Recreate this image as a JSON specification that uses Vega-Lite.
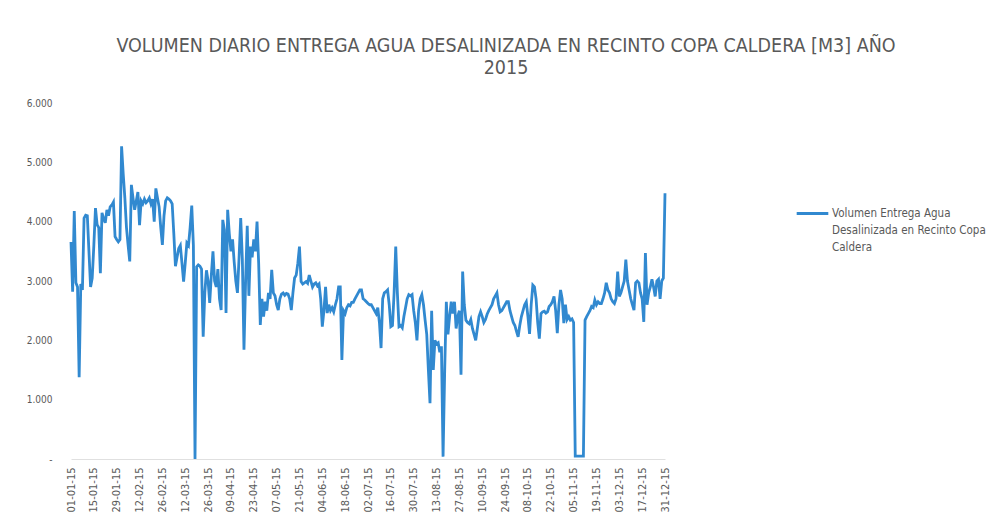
{
  "$schema": "https://vega.github.io/schema/vega-lite/v6.json",
  "autosize": "none",
  "width": 594,
  "height": 356,
  "padding": {"left": 71, "top": 103, "right": 335, "bottom": 70},
  "background": "white",
  "config": {
    "view": {"stroke": null},
    "font": "Liberation Sans Narrow, DejaVu Sans Condensed, sans-serif",
    "locale": {"number": {"decimal": ",", "thousands": ".", "grouping": [3], "currency": ["$", ""]}}
  },
  "title": {
    "text": ["VOLUMEN DIARIO ENTREGA AGUA DESALINIZADA EN RECINTO COPA CALDERA [M3] AÑO", "2015"],
    "font": "Liberation Sans Narrow, DejaVu Sans Condensed, sans-serif",
    "fontSize": 19.5,
    "fontWeight": "normal",
    "color": "#595959",
    "anchor": "middle",
    "dx": 138,
    "offset": 20,
    "lineHeight": 22
  },
  "data": {"values": [
    {"d":"2015-01-01","v":3660},{"d":"2015-01-02","v":2820},{"d":"2015-01-03","v":4180},{"d":"2015-01-04","v":2970},{"d":"2015-01-05","v":2900},{"d":"2015-01-06","v":1380},{"d":"2015-01-07","v":2950},{"d":"2015-01-08","v":2850},{"d":"2015-01-09","v":4060},{"d":"2015-01-10","v":4110},
    {"d":"2015-01-11","v":4100},{"d":"2015-01-12","v":3500},{"d":"2015-01-13","v":2900},{"d":"2015-01-14","v":3050},{"d":"2015-01-15","v":3600},{"d":"2015-01-16","v":4230},{"d":"2015-01-17","v":3950},{"d":"2015-01-18","v":3900},{"d":"2015-01-19","v":3130},{"d":"2015-01-20","v":4150},
    {"d":"2015-01-21","v":4050},{"d":"2015-01-22","v":3980},{"d":"2015-01-23","v":4200},{"d":"2015-01-24","v":4100},{"d":"2015-01-25","v":4250},{"d":"2015-01-26","v":4280},{"d":"2015-01-27","v":4330},{"d":"2015-01-28","v":3750},{"d":"2015-01-29","v":3700},{"d":"2015-01-30","v":3660},{"d":"2015-01-31","v":3700},
    {"d":"2015-02-01","v":5270},{"d":"2015-02-02","v":4800},{"d":"2015-02-03","v":4400},{"d":"2015-02-04","v":3900},{"d":"2015-02-05","v":3600},{"d":"2015-02-06","v":3330},{"d":"2015-02-07","v":4620},{"d":"2015-02-08","v":4400},{"d":"2015-02-09","v":4200},{"d":"2015-02-10","v":4350},
    {"d":"2015-02-11","v":4500},{"d":"2015-02-12","v":3940},{"d":"2015-02-13","v":4350},{"d":"2015-02-14","v":4300},{"d":"2015-02-15","v":4380},{"d":"2015-02-16","v":4320},{"d":"2015-02-17","v":4350},{"d":"2015-02-18","v":4400},{"d":"2015-02-19","v":4300},{"d":"2015-02-20","v":4380},
    {"d":"2015-02-21","v":4000},{"d":"2015-02-22","v":4560},{"d":"2015-02-23","v":4400},{"d":"2015-02-24","v":4250},{"d":"2015-02-25","v":3900},{"d":"2015-02-26","v":3610},{"d":"2015-02-27","v":4100},{"d":"2015-02-28","v":4350},
    {"d":"2015-03-01","v":4400},{"d":"2015-03-02","v":4380},{"d":"2015-03-03","v":4350},{"d":"2015-03-04","v":4300},{"d":"2015-03-05","v":3800},{"d":"2015-03-06","v":3250},{"d":"2015-03-07","v":3400},{"d":"2015-03-08","v":3550},{"d":"2015-03-09","v":3600},{"d":"2015-03-10","v":3300},
    {"d":"2015-03-11","v":2990},{"d":"2015-03-12","v":3300},{"d":"2015-03-13","v":3640},{"d":"2015-03-14","v":3600},{"d":"2015-03-15","v":3900},{"d":"2015-03-16","v":4270},{"d":"2015-03-17","v":3600},{"d":"2015-03-18","v":0},{"d":"2015-03-19","v":3240},{"d":"2015-03-20","v":3270},
    {"d":"2015-03-21","v":3250},{"d":"2015-03-22","v":3200},{"d":"2015-03-23","v":2060},{"d":"2015-03-24","v":2800},{"d":"2015-03-25","v":3180},{"d":"2015-03-26","v":3000},{"d":"2015-03-27","v":2630},{"d":"2015-03-28","v":3100},{"d":"2015-03-29","v":3500},{"d":"2015-03-30","v":3000},{"d":"2015-03-31","v":2900},
    {"d":"2015-04-01","v":3200},{"d":"2015-04-02","v":2700},{"d":"2015-04-03","v":2510},{"d":"2015-04-04","v":4030},{"d":"2015-04-05","v":3860},{"d":"2015-04-06","v":2460},{"d":"2015-04-07","v":4200},{"d":"2015-04-08","v":3800},{"d":"2015-04-09","v":3500},{"d":"2015-04-10","v":3700},
    {"d":"2015-04-11","v":3320},{"d":"2015-04-12","v":3000},{"d":"2015-04-13","v":2800},{"d":"2015-04-14","v":3400},{"d":"2015-04-15","v":4060},{"d":"2015-04-16","v":3370},{"d":"2015-04-17","v":1840},{"d":"2015-04-18","v":3000},{"d":"2015-04-19","v":3930},{"d":"2015-04-20","v":2750},
    {"d":"2015-04-21","v":3580},{"d":"2015-04-22","v":3400},{"d":"2015-04-23","v":3700},{"d":"2015-04-24","v":3500},{"d":"2015-04-25","v":4000},{"d":"2015-04-26","v":3300},{"d":"2015-04-27","v":2260},{"d":"2015-04-28","v":2700},{"d":"2015-04-29","v":2400},{"d":"2015-04-30","v":2650},
    {"d":"2015-05-01","v":2500},{"d":"2015-05-02","v":2800},{"d":"2015-05-03","v":2700},{"d":"2015-05-04","v":3190},{"d":"2015-05-05","v":2800},{"d":"2015-05-06","v":2750},{"d":"2015-05-07","v":2600},{"d":"2015-05-08","v":2510},{"d":"2015-05-09","v":2700},{"d":"2015-05-10","v":2780},
    {"d":"2015-05-11","v":2800},{"d":"2015-05-12","v":2760},{"d":"2015-05-13","v":2790},{"d":"2015-05-14","v":2780},{"d":"2015-05-15","v":2700},{"d":"2015-05-16","v":2510},{"d":"2015-05-17","v":2800},{"d":"2015-05-18","v":3050},{"d":"2015-05-19","v":3100},{"d":"2015-05-20","v":3300},
    {"d":"2015-05-21","v":3580},{"d":"2015-05-22","v":2990},{"d":"2015-05-23","v":2950},{"d":"2015-05-24","v":2970},{"d":"2015-05-25","v":2990},{"d":"2015-05-26","v":2960},{"d":"2015-05-27","v":3100},{"d":"2015-05-28","v":3000},{"d":"2015-05-29","v":2900},{"d":"2015-05-30","v":2950},{"d":"2015-05-31","v":2970},
    {"d":"2015-06-01","v":2920},{"d":"2015-06-02","v":2950},{"d":"2015-06-03","v":2700},{"d":"2015-06-04","v":2230},{"d":"2015-06-05","v":2500},{"d":"2015-06-06","v":2900},{"d":"2015-06-07","v":2460},{"d":"2015-06-08","v":2600},{"d":"2015-06-09","v":2500},{"d":"2015-06-10","v":2550},
    {"d":"2015-06-11","v":2480},{"d":"2015-06-12","v":2600},{"d":"2015-06-13","v":2700},{"d":"2015-06-14","v":2900},{"d":"2015-06-15","v":2900},{"d":"2015-06-16","v":1670},{"d":"2015-06-17","v":2500},{"d":"2015-06-18","v":2450},{"d":"2015-06-19","v":2550},{"d":"2015-06-20","v":2600},
    {"d":"2015-06-21","v":2580},{"d":"2015-06-22","v":2640},{"d":"2015-06-23","v":2640},{"d":"2015-06-24","v":2700},{"d":"2015-06-25","v":2750},{"d":"2015-06-26","v":2800},{"d":"2015-06-27","v":2850},{"d":"2015-06-28","v":2850},{"d":"2015-06-29","v":2700},{"d":"2015-06-30","v":2680},
    {"d":"2015-07-01","v":2650},{"d":"2015-07-02","v":2620},{"d":"2015-07-03","v":2600},{"d":"2015-07-04","v":2600},{"d":"2015-07-05","v":2550},{"d":"2015-07-06","v":2500},{"d":"2015-07-07","v":2450},{"d":"2015-07-08","v":2550},{"d":"2015-07-09","v":2300},{"d":"2015-07-10","v":1870},
    {"d":"2015-07-11","v":2700},{"d":"2015-07-12","v":2800},{"d":"2015-07-13","v":2820},{"d":"2015-07-14","v":2850},{"d":"2015-07-15","v":2600},{"d":"2015-07-16","v":2230},{"d":"2015-07-17","v":2250},{"d":"2015-07-18","v":2800},{"d":"2015-07-19","v":3580},{"d":"2015-07-20","v":2800},
    {"d":"2015-07-21","v":2230},{"d":"2015-07-22","v":2250},{"d":"2015-07-23","v":2210},{"d":"2015-07-24","v":2400},{"d":"2015-07-25","v":2550},{"d":"2015-07-26","v":2700},{"d":"2015-07-27","v":2770},{"d":"2015-07-28","v":2750},{"d":"2015-07-29","v":2770},{"d":"2015-07-30","v":2500},{"d":"2015-07-31","v":2300},
    {"d":"2015-08-01","v":2000},{"d":"2015-08-02","v":2500},{"d":"2015-08-03","v":2700},{"d":"2015-08-04","v":2770},{"d":"2015-08-05","v":2600},{"d":"2015-08-06","v":2340},{"d":"2015-08-07","v":2100},{"d":"2015-08-08","v":1500},{"d":"2015-08-09","v":940},{"d":"2015-08-10","v":2500},
    {"d":"2015-08-11","v":1500},{"d":"2015-08-12","v":2000},{"d":"2015-08-13","v":1940},{"d":"2015-08-14","v":1960},{"d":"2015-08-15","v":1800},{"d":"2015-08-16","v":1900},{"d":"2015-08-17","v":40},{"d":"2015-08-18","v":1500},{"d":"2015-08-19","v":2650},{"d":"2015-08-20","v":2100},
    {"d":"2015-08-21","v":2400},{"d":"2015-08-22","v":2650},{"d":"2015-08-23","v":2450},{"d":"2015-08-24","v":2650},{"d":"2015-08-25","v":2200},{"d":"2015-08-26","v":2400},{"d":"2015-08-27","v":2500},{"d":"2015-08-28","v":1420},{"d":"2015-08-29","v":3160},{"d":"2015-08-30","v":2600},{"d":"2015-08-31","v":2340},
    {"d":"2015-09-01","v":2300},{"d":"2015-09-02","v":2280},{"d":"2015-09-03","v":2350},{"d":"2015-09-04","v":2200},{"d":"2015-09-05","v":2100},{"d":"2015-09-06","v":2000},{"d":"2015-09-07","v":2200},{"d":"2015-09-08","v":2400},{"d":"2015-09-09","v":2480},{"d":"2015-09-10","v":2400},
    {"d":"2015-09-11","v":2300},{"d":"2015-09-12","v":2350},{"d":"2015-09-13","v":2440},{"d":"2015-09-14","v":2500},{"d":"2015-09-15","v":2550},{"d":"2015-09-16","v":2600},{"d":"2015-09-17","v":2700},{"d":"2015-09-18","v":2750},{"d":"2015-09-19","v":2800},{"d":"2015-09-20","v":2600},
    {"d":"2015-09-21","v":2480},{"d":"2015-09-22","v":2500},{"d":"2015-09-23","v":2550},{"d":"2015-09-24","v":2600},{"d":"2015-09-25","v":2650},{"d":"2015-09-26","v":2650},{"d":"2015-09-27","v":2500},{"d":"2015-09-28","v":2400},{"d":"2015-09-29","v":2300},{"d":"2015-09-30","v":2250},
    {"d":"2015-10-01","v":2150},{"d":"2015-10-02","v":2060},{"d":"2015-10-03","v":2250},{"d":"2015-10-04","v":2400},{"d":"2015-10-05","v":2500},{"d":"2015-10-06","v":2600},{"d":"2015-10-07","v":2650},{"d":"2015-10-08","v":2400},{"d":"2015-10-09","v":2110},{"d":"2015-10-10","v":2600},
    {"d":"2015-10-11","v":2930},{"d":"2015-10-12","v":2900},{"d":"2015-10-13","v":2700},{"d":"2015-10-14","v":2300},{"d":"2015-10-15","v":2030},{"d":"2015-10-16","v":2450},{"d":"2015-10-17","v":2480},{"d":"2015-10-18","v":2490},{"d":"2015-10-19","v":2460},{"d":"2015-10-20","v":2480},
    {"d":"2015-10-21","v":2570},{"d":"2015-10-22","v":2600},{"d":"2015-10-23","v":2650},{"d":"2015-10-24","v":2740},{"d":"2015-10-25","v":2500},{"d":"2015-10-26","v":2120},{"d":"2015-10-27","v":2600},{"d":"2015-10-28","v":2850},{"d":"2015-10-29","v":2700},{"d":"2015-10-30","v":2290},{"d":"2015-10-31","v":2600},
    {"d":"2015-11-01","v":2350},{"d":"2015-11-02","v":2400},{"d":"2015-11-03","v":2340},{"d":"2015-11-04","v":2360},{"d":"2015-11-05","v":2300},{"d":"2015-11-06","v":50},{"d":"2015-11-07","v":50},{"d":"2015-11-08","v":50},{"d":"2015-11-09","v":50},{"d":"2015-11-10","v":50},
    {"d":"2015-11-11","v":50},{"d":"2015-11-12","v":2340},{"d":"2015-11-13","v":2400},{"d":"2015-11-14","v":2450},{"d":"2015-11-15","v":2500},{"d":"2015-11-16","v":2570},{"d":"2015-11-17","v":2550},{"d":"2015-11-18","v":2680},{"d":"2015-11-19","v":2600},{"d":"2015-11-20","v":2650},
    {"d":"2015-11-21","v":2620},{"d":"2015-11-22","v":2620},{"d":"2015-11-23","v":2700},{"d":"2015-11-24","v":2800},{"d":"2015-11-25","v":2970},{"d":"2015-11-26","v":2850},{"d":"2015-11-27","v":2800},{"d":"2015-11-28","v":2700},{"d":"2015-11-29","v":2650},{"d":"2015-11-30","v":2620},
    {"d":"2015-12-01","v":2700},{"d":"2015-12-02","v":3160},{"d":"2015-12-03","v":2740},{"d":"2015-12-04","v":2800},{"d":"2015-12-05","v":2900},{"d":"2015-12-06","v":3000},{"d":"2015-12-07","v":3360},{"d":"2015-12-08","v":3000},{"d":"2015-12-09","v":2850},{"d":"2015-12-10","v":2700},
    {"d":"2015-12-11","v":2600},{"d":"2015-12-12","v":2510},{"d":"2015-12-13","v":2970},{"d":"2015-12-14","v":3000},{"d":"2015-12-15","v":2970},{"d":"2015-12-16","v":2800},{"d":"2015-12-17","v":2700},{"d":"2015-12-18","v":2310},{"d":"2015-12-19","v":3470},{"d":"2015-12-20","v":2600},
    {"d":"2015-12-21","v":2800},{"d":"2015-12-22","v":2900},{"d":"2015-12-23","v":3030},{"d":"2015-12-24","v":2900},{"d":"2015-12-25","v":2740},{"d":"2015-12-26","v":3000},{"d":"2015-12-27","v":3030},{"d":"2015-12-28","v":2700},{"d":"2015-12-29","v":3000},{"d":"2015-12-30","v":3050},{"d":"2015-12-31","v":4480}
  ]},
  "mark": {"type": "line", "strokeWidth": 2.8, "interpolate": "linear"},
  "encoding": {
    "x": {
      "field": "d",
      "type": "temporal",
      "scale": {"type": "utc", "domain": [{"year": 2015, "month": 1, "date": 1, "utc": true}, {"year": 2015, "month": 12, "date": 31, "utc": true}]},
      "axis": {
        "title": null,
        "values": [
          {"year": 2015, "month": 1, "date": 1, "utc": true},
          {"year": 2015, "month": 1, "date": 15, "utc": true},
          {"year": 2015, "month": 1, "date": 29, "utc": true},
          {"year": 2015, "month": 2, "date": 12, "utc": true},
          {"year": 2015, "month": 2, "date": 26, "utc": true},
          {"year": 2015, "month": 3, "date": 12, "utc": true},
          {"year": 2015, "month": 3, "date": 26, "utc": true},
          {"year": 2015, "month": 4, "date": 9, "utc": true},
          {"year": 2015, "month": 4, "date": 23, "utc": true},
          {"year": 2015, "month": 5, "date": 7, "utc": true},
          {"year": 2015, "month": 5, "date": 21, "utc": true},
          {"year": 2015, "month": 6, "date": 4, "utc": true},
          {"year": 2015, "month": 6, "date": 18, "utc": true},
          {"year": 2015, "month": 7, "date": 2, "utc": true},
          {"year": 2015, "month": 7, "date": 16, "utc": true},
          {"year": 2015, "month": 7, "date": 30, "utc": true},
          {"year": 2015, "month": 8, "date": 13, "utc": true},
          {"year": 2015, "month": 8, "date": 27, "utc": true},
          {"year": 2015, "month": 9, "date": 10, "utc": true},
          {"year": 2015, "month": 9, "date": 24, "utc": true},
          {"year": 2015, "month": 10, "date": 8, "utc": true},
          {"year": 2015, "month": 10, "date": 22, "utc": true},
          {"year": 2015, "month": 11, "date": 5, "utc": true},
          {"year": 2015, "month": 11, "date": 19, "utc": true},
          {"year": 2015, "month": 12, "date": 3, "utc": true},
          {"year": 2015, "month": 12, "date": 17, "utc": true},
          {"year": 2015, "month": 12, "date": 31, "utc": true}
        ],
        "format": "%d-%m-%y",
        "labelAngle": 270,
        "labelFontSize": 11,
        "labelColor": "#595959",
        "labelPadding": 8,
        "labelOverlap": false,
        "labelFlush": false,
        "ticks": false,
        "domain": true,
        "domainColor": "#e0e0e0",
        "domainWidth": 1,
        "grid": false
      }
    },
    "y": {
      "field": "v",
      "type": "quantitative",
      "scale": {"domain": [0, 6000], "nice": false},
      "axis": {
        "title": null,
        "values": [0, 1000, 2000, 3000, 4000, 5000, 6000],
        "labelExpr": "datum.value == 0 ? '-' : format(datum.value, ',')",
        "labelFontSize": 10,
        "labelColor": "#595959",
        "labelPadding": 19,
        "ticks": false,
        "domain": false,
        "grid": false
      }
    },
    "color": {
      "datum": "Volumen Entrega Agua Desalinizada en Recinto Copa Caldera",
      "scale": {"range": ["#3189D0"]},
      "legend": {
        "title": null,
        "orient": "none",
        "legendX": 724,
        "legendY": 93,
        "symbolType": "stroke",
        "symbolStrokeWidth": 2.8,
        "symbolSize": 1000,
        "labelExpr": "['Volumen Entrega Agua', 'Desalinizada en Recinto Copa', 'Caldera']",
        "labelFontSize": 11.5,
        "labelColor": "#595959",
        "labelLimit": 300,
        "labelBaseline": "middle",
        "labelOffset": 2,
        "encode": {"labels": {"update": {"lineHeight": {"value": 17}}}}
      }
    }
  }
}
